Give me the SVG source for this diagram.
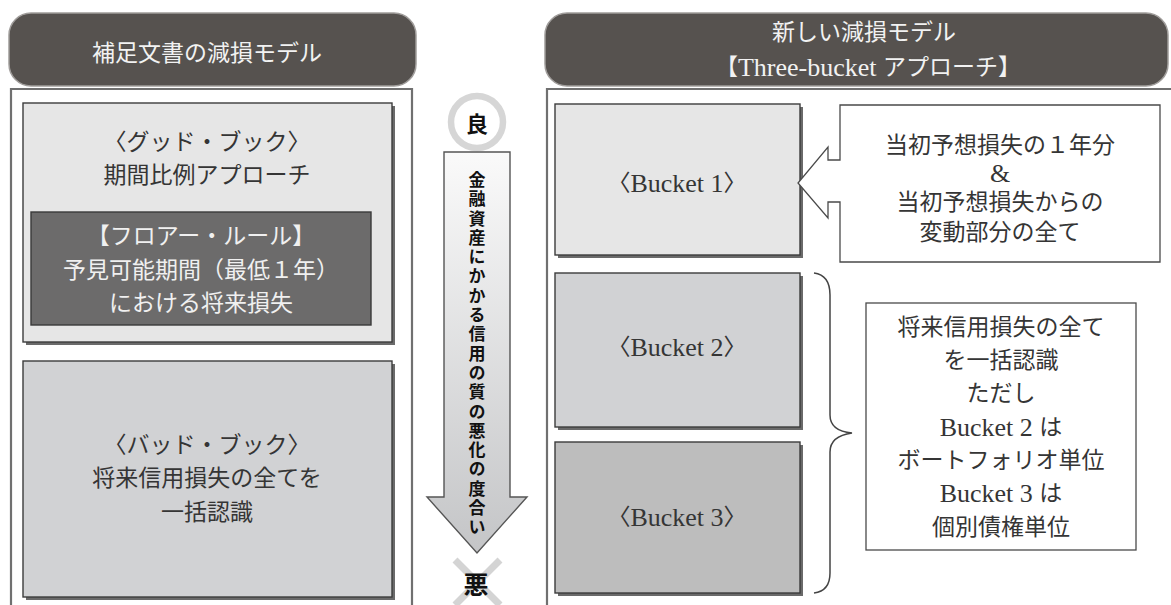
<svg xmlns="http://www.w3.org/2000/svg" width="1171" height="605" viewBox="0 0 1171 605">
  <defs>
    <linearGradient id="arrowFill" x1="0" y1="0" x2="0" y2="1">
      <stop offset="0" stop-color="#fafafa"/>
      <stop offset="1" stop-color="#c4c5c7"/>
    </linearGradient>
  </defs>
  <style>
    .hdr { fill: #56524f; stroke: #a09d9b; stroke-width: 1.5; }
    .hdr-t { fill: #f2f2f2; font-family: "Liberation Serif", "Noto Sans CJK JP", serif; font-size: 23px; text-anchor: middle; dominant-baseline: central; }
    .frame { fill: none; stroke: #707070; stroke-width: 2.2; }
    .shadow { fill: #6a6a6a; }
    .box { stroke: #3c3c3c; stroke-width: 1.4; }
    .light { fill: #e6e6e6; }
    .mid { fill: #d1d2d4; }
    .deep { fill: #bdbdbd; }
    .dark { fill: #6c6b6b; stroke: #3a3a3a; stroke-width: 1.4; }
    .t { fill: #353535; font-family: "Liberation Serif", "Noto Sans CJK JP", serif; font-size: 23px; text-anchor: middle; dominant-baseline: central; }
    .tw { fill: #f0f0f0; }
    .lat { font-size: 26px; }
    .note { fill: #fff; stroke: #4a4a4a; stroke-width: 1.3; }
    .bold { fill: #111; font-family: "Noto Sans CJK JP", sans-serif; font-weight: 700; text-anchor: middle; dominant-baseline: central; }
  </style>

  <!-- left column: supplementary-document impairment model -->
  <g id="left-header">
    <rect class="hdr" x="9" y="13" width="407" height="73" rx="22"/>
    <text class="hdr-t" x="207" y="53" font-size="24">補足文書の減損モデル</text>
  </g>
  <g id="left-frame">
    <path class="frame" d="M11,610 V89 H412 V610"/>
  </g>
  <g id="good-book">
    <rect class="shadow" x="26" y="106" width="369" height="239"/>
    <rect class="box light" x="23" y="103" width="369" height="239"/>
    <text class="t" x="207" y="142">〈グッド・ブック〉</text>
    <text class="t" x="207" y="175">期間比例アプローチ</text>
  </g>
  <g id="floor-rule">
    <rect class="dark" x="31" y="212" width="340" height="113"/>
    <text class="t tw" x="201" y="236">【フロアー・ルール】</text>
    <text class="t tw" x="201" y="270">予見可能期間（最低１年）</text>
    <text class="t tw" x="201" y="303">における将来損失</text>
  </g>
  <g id="bad-book">
    <rect class="shadow" x="26" y="364" width="369" height="236"/>
    <rect class="box mid" x="23" y="361" width="369" height="236"/>
    <text class="t" x="207" y="445">〈バッド・ブック〉</text>
    <text class="t" x="207" y="478">将来信用損失の全てを</text>
    <text class="t" x="207" y="512">一括認識</text>
  </g>

  <!-- centre: credit-quality scale -->
  <g id="scale-good">
    <circle cx="477" cy="122" r="26" fill="#fff" stroke="#d6d6d6" stroke-width="6.5"/>
    <text class="bold" x="477" y="122" font-size="22">良</text>
  </g>
  <g id="scale-arrow">
    <path d="M444,152 H510 V497 H527 L477,553 L427,497 H444 Z" fill="url(#arrowFill)" stroke="#555" stroke-width="1.4"/>
    <text x="477" y="171" font-family="Noto Sans CJK JP, sans-serif" font-weight="700" font-size="17" letter-spacing="2.3" fill="#111" style="writing-mode: vertical-rl; text-orientation: upright;">金融資産にかかる信用の質の悪化の度合い</text>
  </g>
  <g id="scale-bad">
    <path d="M455,560 L500,605 M500,560 L455,605" stroke="#d4d4d4" stroke-width="7" fill="none"/>
    <text class="bold" x="476" y="583" font-size="25">悪</text>
  </g>

  <!-- right column: new impairment model -->
  <g id="right-header">
    <rect class="hdr" x="545" y="13" width="623" height="73" rx="22"/>
    <text class="hdr-t" x="864" y="32">新しい減損モデル</text>
    <text class="hdr-t" x="868" y="67">【<tspan font-size="26">Three-bucket </tspan>アプローチ】</text>
  </g>
  <g id="right-frame">
    <path class="frame" d="M547,610 V89 H1175"/>
  </g>
  <g id="bucket-1">
    <rect class="shadow" x="558" y="107" width="245" height="151"/>
    <rect class="box light" x="555" y="104" width="245" height="151"/>
    <text class="t" x="677" y="183">〈<tspan class="lat">Bucket 1</tspan>〉</text>
  </g>
  <g id="bucket-2">
    <rect class="shadow" x="558" y="276" width="245" height="154"/>
    <rect class="box mid" x="555" y="273" width="245" height="154"/>
    <text class="t" x="677" y="347">〈<tspan class="lat">Bucket 2</tspan>〉</text>
  </g>
  <g id="bucket-3">
    <rect class="shadow" x="558" y="445" width="245" height="151"/>
    <rect class="box deep" x="555" y="442" width="245" height="151"/>
    <text class="t" x="677" y="517">〈<tspan class="lat">Bucket 3</tspan>〉</text>
  </g>
  <g id="bucket-1-note">
    <path class="note" d="M840,105 H1160 V262 H840 V202 H828 V218 L798,183 L828,147 V160 H840 Z"/>
    <text class="t" x="1000" y="145">当初予想損失の１年分</text>
    <text class="t lat" x="1000" y="173">&amp;</text>
    <text class="t" x="1000" y="202">当初予想損失からの</text>
    <text class="t" x="1000" y="232">変動部分の全て</text>
  </g>
  <g id="bucket-23-note">
    <rect class="note" x="866" y="303" width="270" height="247"/>
    <text class="t" x="1001" y="327">将来信用損失の全て</text>
    <text class="t" x="1001" y="360">を一括認識</text>
    <text class="t" x="1001" y="393">ただし</text>
    <text class="t" x="1001" y="427"><tspan class="lat">Bucket 2 </tspan>は</text>
    <text class="t" x="1001" y="460">ボートフォリオ単位</text>
    <text class="t" x="1001" y="493"><tspan class="lat">Bucket 3 </tspan>は</text>
    <text class="t" x="1001" y="527">個別債権単位</text>
  </g>

  <g id="connectors">
    <!-- brace grouping buckets 2 and 3 -->
    <path d="M814,273 Q830,275 830,295 V415 Q830,431 852,433 Q830,436 830,452 V573 Q830,591 814,593" fill="none" stroke="#444" stroke-width="1.5"/>
  </g>
</svg>
